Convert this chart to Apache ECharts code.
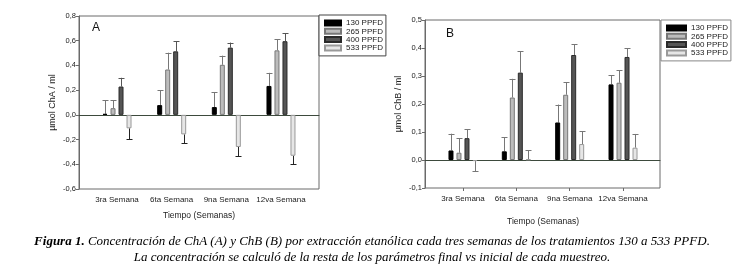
<!DOCTYPE html>
<html>
<head>
<meta charset="utf-8">
<script src="https://cdn.jsdelivr.net/npm/echarts@6/dist/echarts.min.js"></script>
<style>
  html, body { margin: 0; padding: 0; background: #fff; }
  #chart { width: 744px; height: 277px; }
</style>
</head>
<body>
<div id="chart"></div>
<script>
// categorias (semanas)
var categories = ["3ra Semana", "6ta Semana", "9na Semana", "12va Semana"];
var seriesNames = ["130 PPFD", "265 PPFD", "400 PPFD", "533 PPFD"];

// panel A - ChA (media y desviacion)
var chA130 = [0.008, 0.079, 0.063, 0.234];
var chA265 = [0.054, 0.367, 0.405, 0.522];
var chA400 = [0.229, 0.514, 0.544, 0.596];
var chA533 = [-0.109, -0.158, -0.26, -0.331];
var errA130 = [0.112, 0.122, 0.122, 0.106];
var errA265 = [0.066, 0.136, 0.074, 0.088];
var errA400 = [0.071, 0.082, 0.041, 0.063];
var errA533 = [0.09, 0.071, 0.074, 0.068];

// panel B - ChB
var chB130 = [0.034, 0.031, 0.134, 0.27];
var chB265 = [0.026, 0.223, 0.233, 0.276];
var chB400 = [0.078, 0.312, 0.375, 0.368];
var chB533 = [-0.004, 0.002, 0.057, 0.044];
var errB130 = [0.06, 0.051, 0.064, 0.032];
var errB265 = [0.052, 0.067, 0.045, 0.045];
var errB400 = [0.032, 0.076, 0.038, 0.032];
var errB533 = [0.036, 0.032, 0.045, 0.049];

// ticks eje y
var yTicksA = { min: -0.6, max: 0.8, interval: 0.2 };
var yTicksB = { min: -0.1, max: 0.5, interval: 0.1 };

var captionLine1 = "Concentración de ChA (A) y ChB (B) por extracción etanólica cada tres semanas de los tratamientos 130 a 533 PPFD.";
var captionLine2 = "La concentración se calculó de la resta de los parámetros final vs inicial de cada muestreo.";

var font = "Liberation Sans, Arial, sans-serif";
var serif = "Liberation Serif, Times New Roman, serif";
var fills = ["#000000", "#bcbcbc", "#555555", "#e6e6e6"];
var borders = ["#000000", "#777777", "#2a2a2a", "#999999"];
var barW = 5;
var barStep = 8;

function fmt(v) {
  return v.toFixed(1).replace(".", ",");
}

// barras
function barSeries(xi, yi, data, k) {
  return {
    name: seriesNames[k],
    type: "bar",
    xAxisIndex: xi,
    yAxisIndex: yi,
    barWidth: barW,
    barGap: "60%",
    data: data,
    itemStyle: { color: fills[k], borderColor: borders[k], borderWidth: 1 },
    z: 3,
  };
}

// barras de error (solo hacia afuera del cero)
function errSeries(xi, yi, means, errs, k, color) {
  return {
    type: "custom",
    xAxisIndex: xi,
    yAxisIndex: yi,
    silent: true,
    z: 2,
    data: means.map(function (m, i) {
      return [i, m, errs[i]];
    }),
    renderItem: function (params, api) {
      var m = api.value(1);
      var dir = m < 0 ? -1 : 1;
      var p0 = api.coord([api.value(0), m]);
      var p1 = api.coord([api.value(0), m + dir * api.value(2)]);
      var x = Math.round(p0[0] + (k - 1.5) * barStep) + 0.5;
      var st = { stroke: color, lineWidth: 1 };
      return {
        type: "group",
        children: [
          { type: "line", shape: { x1: x, y1: p0[1], x2: x, y2: p1[1] }, style: st },
          { type: "line", shape: { x1: x - 3, y1: Math.round(p1[1]) + 0.5, x2: x + 3, y2: Math.round(p1[1]) + 0.5 }, style: st },
        ],
      };
    },
  };
}

function frameGrid(l, t, w, h) {
  return { left: l, top: t, width: w, height: h, show: true, borderColor: "#6a6a6a", borderWidth: 1, backgroundColor: "transparent" };
}

function catAxis(gi, tick, nameGap) {
  return {
    gridIndex: gi, type: "category", data: categories, position: "bottom",
    axisLine: { show: false, onZero: false },
    axisTick: { show: tick, alignWithLabel: true, length: 3, lineStyle: { color: "#6a6a6a" } },
    axisLabel: { interval: 0, fontSize: 8, color: "#222", margin: 7, fontFamily: font },
    name: "Tiempo (Semanas)", nameLocation: "middle", nameGap: nameGap,
    nameTextStyle: { fontSize: 8.5, color: "#222", fontFamily: font },
  };
}

function valAxis(gi, t, name) {
  return {
    gridIndex: gi, type: "value", min: t.min, max: t.max, interval: t.interval,
    axisLine: { show: true, lineStyle: { color: "#6a6a6a" } },
    axisTick: { show: true, length: 3, lineStyle: { color: "#6a6a6a" } },
    axisLabel: { fontSize: 7.5, color: "#222", margin: 3, fontFamily: font, formatter: fmt },
    splitLine: { show: false },
    name: name, nameLocation: "middle", nameGap: 22, nameRotate: 90,
    nameTextStyle: { fontSize: 9, color: "#222", fontFamily: font },
  };
}

// linea del cero a todo lo ancho del marco
function zeroAxis(gi) {
  return { gridIndex: gi, type: "value", min: 0, max: 1, axisLine: { onZero: true, lineStyle: { color: "#3d4a3d" } }, axisTick: { show: false }, axisLabel: { show: false }, splitLine: { show: false } };
}

function legendBox(left, top, iw, border) {
  return {
    data: seriesNames, orient: "vertical", left: left, top: top,
    itemWidth: iw, itemHeight: 5, itemGap: 0.3, icon: "rect",
    padding: [4, 3, 4, 5], borderColor: border, borderWidth: 1, backgroundColor: "#fff",
    textStyle: { fontSize: 8, lineHeight: 8, color: "#222", fontFamily: font },
    selectedMode: false,
  };
}

var option = {
  animation: false,
  backgroundColor: "#fff",
  grid: [
    frameGrid(79, 16, 240, 173), // marco A
    { left: 89.7, top: 16, width: 218.6, height: 173 }, // datos A
    frameGrid(425, 20, 235, 168), // marco B
    { left: 436.3, top: 20, width: 213.4, height: 168 }, // datos B
  ],
  xAxis: [zeroAxis(0), catAxis(1, false, 22), zeroAxis(2), catAxis(3, true, 29)],
  yAxis: [
    valAxis(0, yTicksA, "µmol ChA / ml"),
    { gridIndex: 1, type: "value", min: yTicksA.min, max: yTicksA.max, interval: yTicksA.interval, show: false },
    valAxis(2, yTicksB, "µmol ChB / ml"),
    { gridIndex: 3, type: "value", min: yTicksB.min, max: yTicksB.max, interval: yTicksB.interval, show: false },
  ],
  legend: [legendBox(319, 15, 16, "#444"), legendBox(661, 20, 19, "#888")],
  // leyenda de la figura y letras de panel
  graphic: [
    { type: "text", left: 92, top: 22, style: { text: "A", fontSize: 12, fill: "#111", fontFamily: font } },
    { type: "text", left: 446, top: 28, style: { text: "B", fontSize: 12, fill: "#111", fontFamily: font } },
    {
      type: "text", left: "center", top: 235,
      style: {
        text: "{b|Figura 1.} " + captionLine1,
        fontSize: 13, fontStyle: "italic", fill: "#000", fontFamily: serif,
        rich: { b: { fontSize: 13, fontStyle: "italic", fontWeight: "bold", fontFamily: serif } },
      },
    },
    {
      type: "text", left: "center", top: 251,
      style: { text: captionLine2, fontSize: 13, fontStyle: "italic", fill: "#000", fontFamily: serif },
    },
  ],
  series: [
    barSeries(1, 1, chA130, 0),
    barSeries(1, 1, chA265, 1),
    barSeries(1, 1, chA400, 2),
    barSeries(1, 1, chA533, 3),
    errSeries(1, 1, chA130, errA130, 0, "#777"),
    errSeries(1, 1, chA265, errA265, 1, "#777"),
    errSeries(1, 1, chA400, errA400, 2, "#555"),
    errSeries(1, 1, chA533, errA533, 3, "#222"),
    barSeries(3, 3, chB130, 0),
    barSeries(3, 3, chB265, 1),
    barSeries(3, 3, chB400, 2),
    barSeries(3, 3, chB533, 3),
    errSeries(3, 3, chB130, errB130, 0, "#777"),
    errSeries(3, 3, chB265, errB265, 1, "#777"),
    errSeries(3, 3, chB400, errB400, 2, "#777"),
    errSeries(3, 3, chB533, errB533, 3, "#777"),
  ],
};

var chart = echarts.init(document.getElementById("chart"));
chart.setOption(option);
window.addEventListener("resize", function () {
  chart.resize();
});
</script>
</body>
</html>
